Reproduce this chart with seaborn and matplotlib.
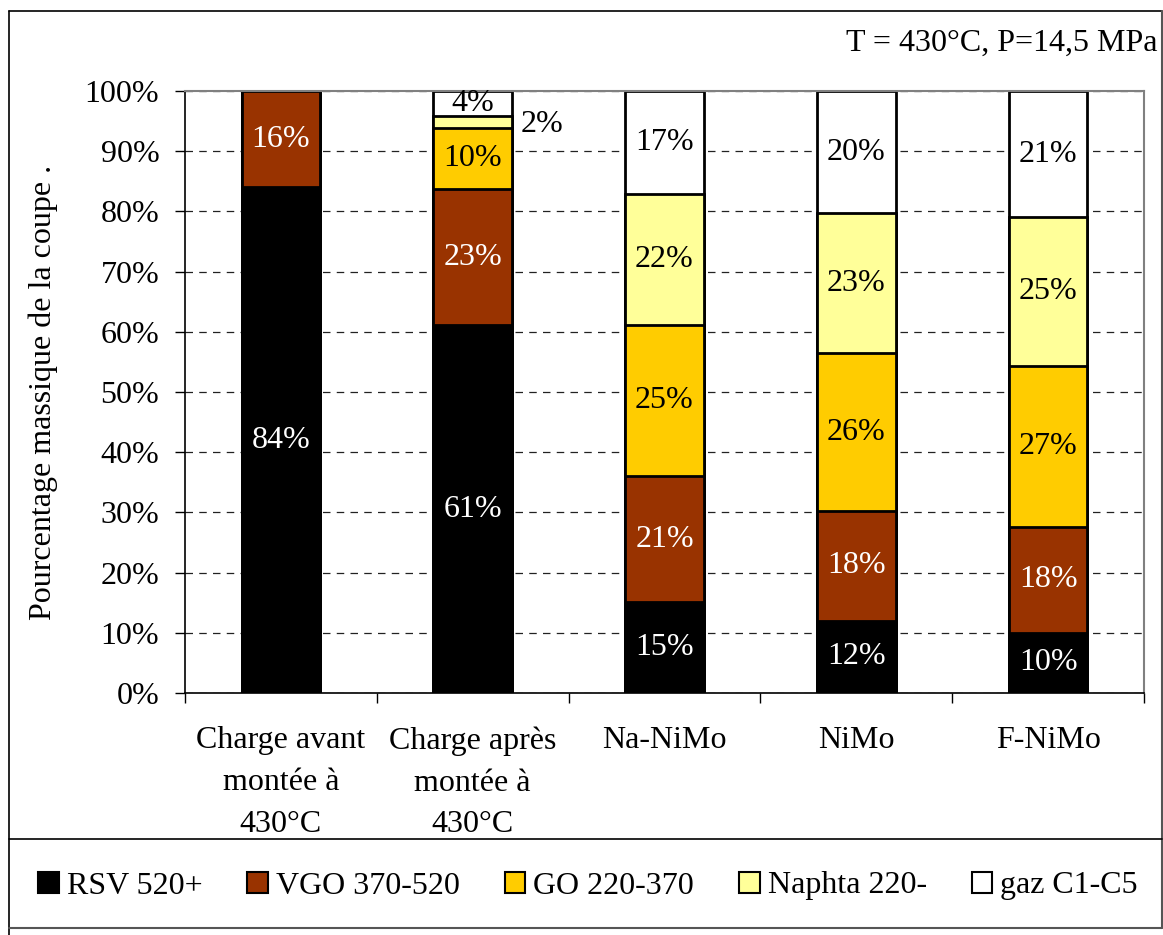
import numpy as np
import pandas as pd
import matplotlib
matplotlib.use("Agg")
import matplotlib.pyplot as plt
import seaborn as sns
from matplotlib.patches import Patch
from matplotlib.lines import Line2D
from matplotlib.ticker import FixedLocator

# --- data -------------------------------------------------------------------
categories = [
    "Charge avant\nmontée à\n430°C",
    "Charge après\nmontée à\n430°C",
    "Na-NiMo",
    "NiMo",
    "F-NiMo",
]
fractions = ["RSV 520+", "VGO 370-520", "GO 220-370", "Naphta 220-", "gaz C1-C5"]

rsv = [84.0, 61.1, 15.1, 12.0, 10.0]
vgo = [16.0, 22.6, 20.9, 18.3, 17.6]
go = [0.0, 10.2, 25.2, 26.1, 26.8]
naphta = [0.0, 2.0, 21.7, 23.3, 24.6]
gaz = [0.0, 4.1, 17.1, 20.3, 21.0]

conditions = "T = 430°C, P=14,5 MPa"
ylabel = "Pourcentage massique de la coupe ."

colors = ["#000000", "#993300", "#FFCC00", "#FFFF99", "#FFFFFF"]
text_colors = ["white", "white", "black", "black", "black"]

# --- style ------------------------------------------------------------------
sns.set_theme(style="white")
plt.rcParams["font.family"] = ["Liberation Serif", "DejaVu Serif"]
plt.rcParams["text.color"] = "black"
plt.rcParams["axes.labelcolor"] = "black"
plt.rcParams["xtick.color"] = "black"
plt.rcParams["ytick.color"] = "black"
plt.rcParams["xtick.labelcolor"] = "black"
plt.rcParams["ytick.labelcolor"] = "black"
FS = 23

fig = plt.figure(figsize=(11.63, 9.35), dpi=100)
ax = fig.add_axes([185 / 1163, 1 - 693 / 935, (1144 - 185) / 1163, (693 - 91) / 935])

layers = np.array([rsv, vgo, go, naphta, gaz])
cum = np.cumsum(layers, axis=0)

# stacked bars: draw cumulative totals from the top layer down
for k in range(len(fractions) - 1, -1, -1):
    df = pd.DataFrame({"cat": categories, "val": cum[k]})
    sns.barplot(data=df, x="cat", y="val", order=categories, color=colors[k],
                saturation=1, width=0.41, edgecolor="black", linewidth=2,
                errorbar=None, ax=ax, zorder=2)

# segment labels
for i in range(len(categories)):
    for k in range(len(fractions)):
        v = layers[k, i]
        if v <= 0:
            continue
        mid = cum[k, i] - v / 2
        if v < 3:
            ax.text(i + 0.25, mid - 0.4, f"{v:.0f}%", ha="left", va="center",
                    fontsize=FS, color="black", zorder=5)
        else:
            ax.text(i, mid, f"{v:.0f}%", ha="center", va="center",
                    fontsize=FS, color=text_colors[k], zorder=5)

# axes
ax.set_ylim(0, 100)
ax.set_xlim(-0.5, len(categories) - 0.5)
ax.set_yticks(np.arange(0, 101, 10))
ax.set_yticklabels([f"{t}%" for t in range(0, 101, 10)], fontsize=FS, color="black")
ax.set_xticks(range(len(categories)))
ax.set_xticklabels(categories, fontsize=FS, linespacing=1.58, color="black")
ax.xaxis.set_minor_locator(FixedLocator(np.arange(-0.5, len(categories), 1.0)))
ax.tick_params(axis="x", which="major", length=0, pad=24)
ax.tick_params(axis="x", which="minor", length=7.5, width=1, color="black",
               direction="out", bottom=True)
ax.tick_params(axis="y", which="major", length=7.5, width=1, color="black",
               direction="out", left=True, pad=11)
ax.set_xlabel("")
ax.set_ylabel("")

ax.set_axisbelow(True)
ax.yaxis.grid(True, color="#222222", linestyle=(0, (6, 5)), linewidth=0.9)
ax.xaxis.grid(False)

for side in ["left", "bottom"]:
    ax.spines[side].set_color("black")
    ax.spines[side].set_linewidth(1.2)
for side in ["top", "right"]:
    ax.spines[side].set_color("#808080")
    ax.spines[side].set_linewidth(1.5)

fig.text(43 / 1163, 1 - 392 / 935, ylabel, rotation=90, ha="center",
         va="center", fontsize=FS, color="black")
fig.text(1158 / 1163, 1 - 43 / 935, conditions, ha="right", va="center",
         fontsize=FS, color="black")

# legend
handles = [Patch(facecolor=c, edgecolor="black", linewidth=1.5) for c in colors]
fig.legend(handles, fractions, loc="center", bbox_to_anchor=(588 / 1163, 1 - 886 / 935),
           ncol=5, frameon=False, fontsize=FS, handlelength=0.65, handleheight=0.65,
           handletextpad=0.25, columnspacing=1.4, labelcolor="black")

# chart frame and legend separator
L, R, T, B, S = 9 / 1163, 1162 / 1163, 1 - 11 / 935, 1 - 928 / 935, 1 - 839 / 935
fig.add_artist(Line2D([L, R], [T, T], color="black", lw=1.2))
fig.add_artist(Line2D([L, L], [0, T], color="black", lw=1.2))
fig.add_artist(Line2D([R, R], [B, T], color="#555555", lw=1.5))
fig.add_artist(Line2D([L, R], [B, B], color="#555555", lw=1.5))
fig.add_artist(Line2D([L, R], [S, S], color="black", lw=1.2))

fig.savefig("out.png", dpi=100)
